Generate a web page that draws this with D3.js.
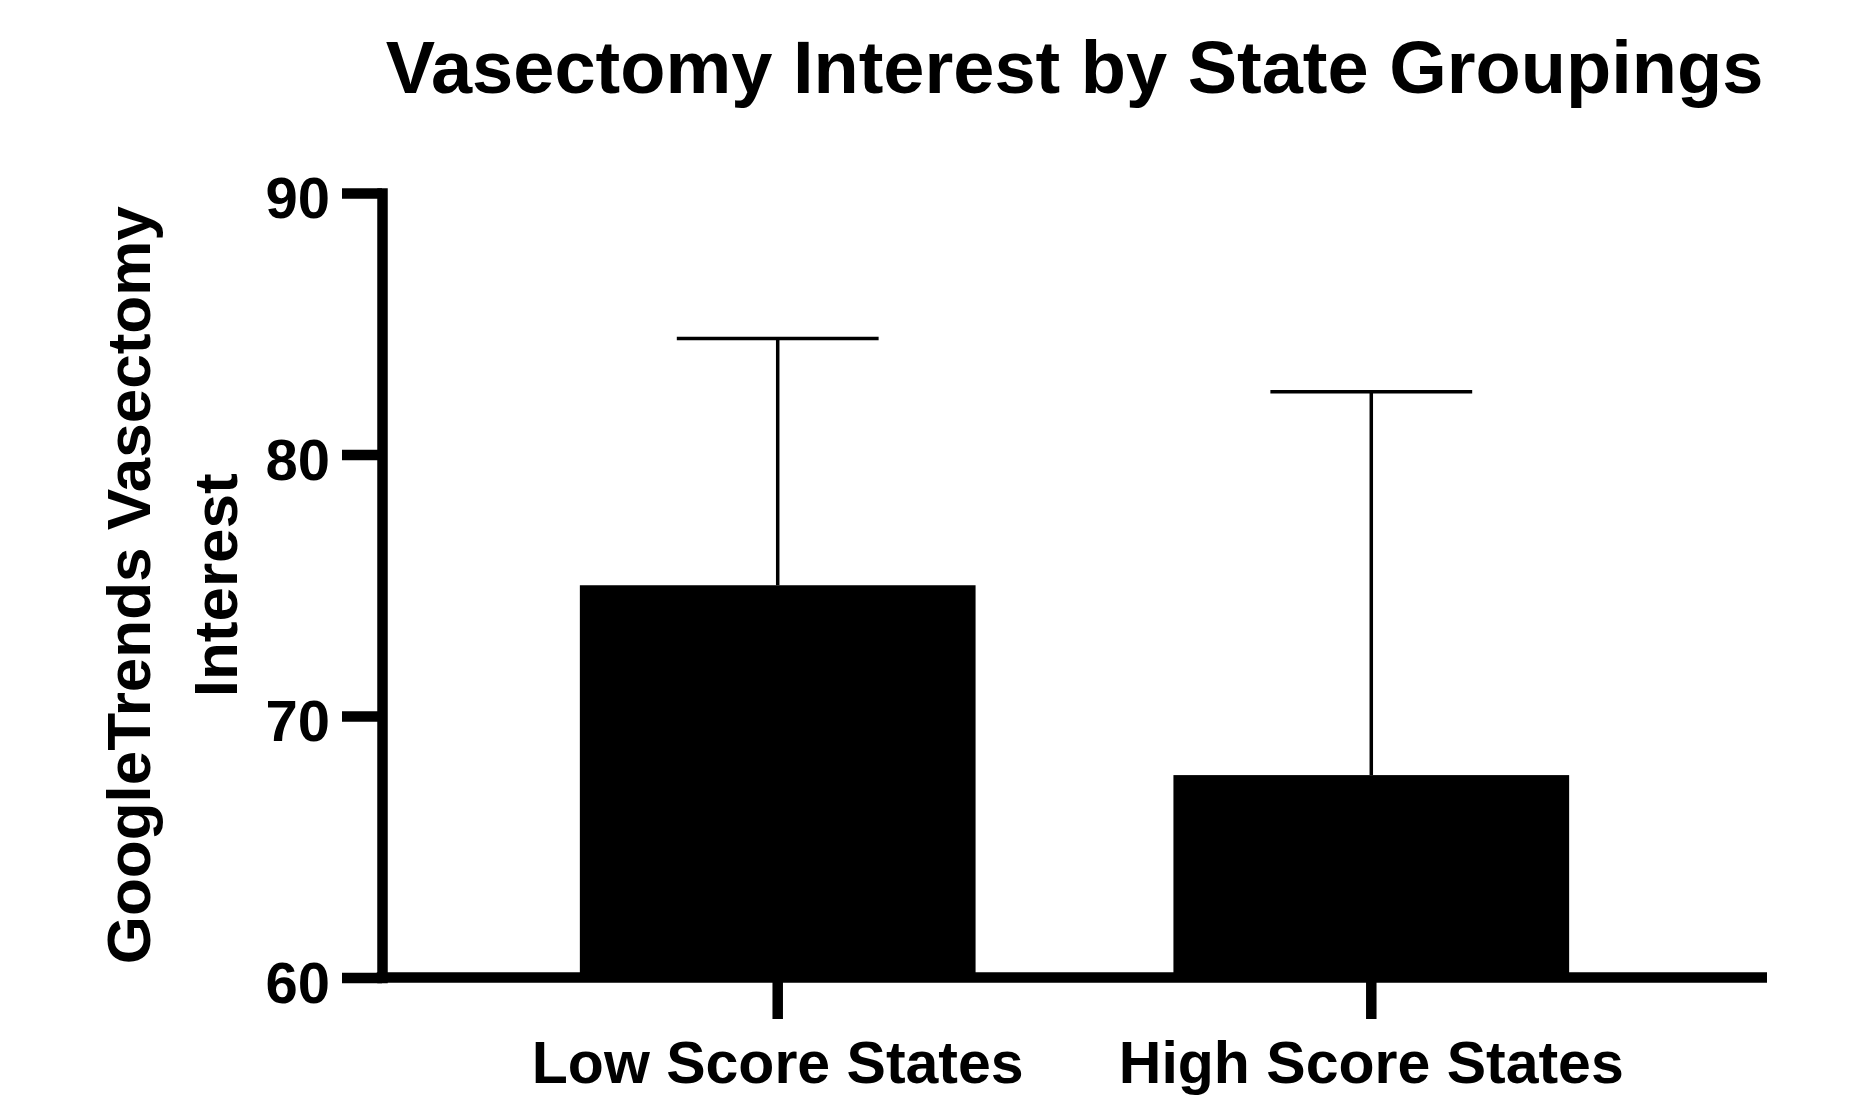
<!DOCTYPE html>
<html>
<head>
<meta charset="utf-8">
<script src="https://cdn.jsdelivr.net/npm/d3@7"></script>
<style>
  html, body { margin: 0; padding: 0; background: #fff; }
  svg { display: block; }
  text { font-family: "Liberation Sans", Arial, Helvetica, sans-serif; font-weight: bold; fill: #000; }
</style>
</head>
<body>
<svg id="chart" width="1874" height="1096"></svg>
<script>
// ---- Data ----
const categories = ["Low Score States", "High Score States"];
const means = [75.0, 67.74];
const errors = [9.44, 14.66];
const yTicks = [60, 70, 80, 90];
const titleText = "Vasectomy Interest by State Groupings";
const yLabelLines = ["GoogleTrends Vasectomy", "Interest"];

// ---- Layout ----
const W = 1874, H = 1096;
const plot = { left: 382, right: 1767, top: 193, bottom: 977.5 };
const axisW = 10.5;

const svg = d3.select("#chart");

const x = d3.scaleBand()
  .domain(categories)
  .range([plot.left, plot.right])
  .paddingInner(1/3)
  .paddingOuter(1/3);

const y = d3.scaleLinear()
  .domain([60, 90])
  .range([plot.bottom, plot.top]);

// Bars
svg.append("g").selectAll("rect")
  .data(categories)
  .join("rect")
  .attr("x", d => x(d))
  .attr("width", x.bandwidth())
  .attr("y", (d, i) => y(means[i]))
  .attr("height", (d, i) => y(60) - y(means[i]))
  .attr("fill", "#000");

// Error bars (upper only)
const eb = svg.append("g").attr("stroke", "#000").attr("stroke-width", 3.5).attr("fill", "none");
categories.forEach((c, i) => {
  const cx = x(c) + x.bandwidth() / 2;
  const capHalf = x.bandwidth() * 0.255;
  eb.append("line")
    .attr("x1", cx).attr("x2", cx)
    .attr("y1", y(means[i])).attr("y2", y(means[i] + errors[i]));
  eb.append("line")
    .attr("x1", cx - capHalf).attr("x2", cx + capHalf)
    .attr("y1", y(means[i] + errors[i])).attr("y2", y(means[i] + errors[i]));
});

// Y axis
const gy = svg.append("g")
  .attr("transform", `translate(${plot.left},0)`)
  .call(d3.axisLeft(y).tickValues(yTicks).tickSize(40).tickSizeOuter(0).tickPadding(12));
gy.select(".domain").attr("stroke", "#000").attr("stroke-width", axisW).attr("stroke-linecap", "square");
gy.selectAll(".tick line").attr("stroke", "#000").attr("stroke-width", axisW);
gy.selectAll(".tick text")
  .attr("font-size", 58)
  .attr("dy", "0.43em")
  .style("font-family", '"Liberation Sans", Arial, Helvetica, sans-serif')
  .style("font-weight", "bold")
  .attr("fill", "#000");

// X axis
const gx = svg.append("g")
  .attr("transform", `translate(0,${plot.bottom})`)
  .call(d3.axisBottom(x).tickSize(41.5).tickSizeOuter(0).tickPadding(22));
gx.select(".domain")
  .attr("d", `M${x.range()[0] - axisW / 2},0H${x.range()[1]}`)
  .attr("stroke", "#000").attr("stroke-width", axisW);
gx.selectAll(".tick line").attr("stroke", "#000").attr("stroke-width", axisW);
gx.selectAll(".tick text")
  .attr("font-size", 59)
  .style("font-family", '"Liberation Sans", Arial, Helvetica, sans-serif')
  .style("font-weight", "bold")
  .attr("fill", "#000");

// Title
svg.append("text")
  .attr("x", (plot.left + plot.right) / 2)
  .attr("y", 92.5)
  .attr("text-anchor", "middle")
  .attr("font-size", 74)
  .text(titleText);

// Y axis label (two lines, rotated)
const yMid = (plot.top + plot.bottom) / 2;
const lineX = [150, 237];
yLabelLines.forEach((t, i) => {
  svg.append("text")
    .attr("transform", `translate(${lineX[i]},${yMid}) rotate(-90)`)
    .attr("text-anchor", "middle")
    .attr("font-size", 62)
    .text(t);
});
</script>
</body>
</html>
